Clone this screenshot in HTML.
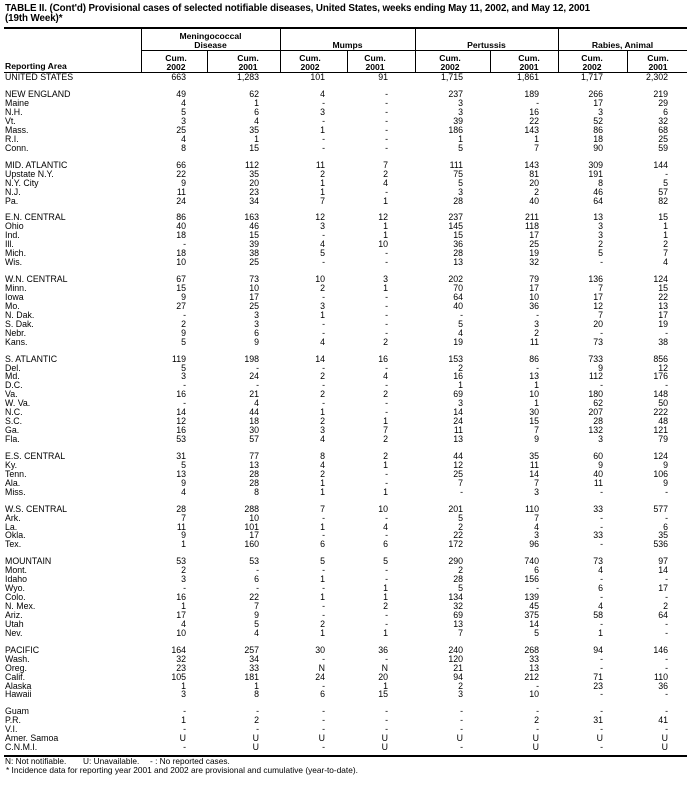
<!DOCTYPE html>
<html><head><meta charset="utf-8">
<style>
*{margin:0;padding:0;box-sizing:border-box}
body{width:687px;height:792px;background:#fff;position:relative;font-family:"Liberation Sans",Arial,sans-serif;color:#000;overflow:hidden}
.a{position:absolute;white-space:nowrap}
.title{left:5px;top:3.5px;font-weight:bold;font-size:9.8px;line-height:10px;letter-spacing:-0.1px}
.hl{position:absolute;background:#000}
.hb{font-weight:bold;font-size:8.6px;line-height:9px;text-align:center;position:absolute}
#data{position:absolute;top:73.3px;left:0;width:687px;font-size:8.8px}
.r{display:flex;height:8.95px;line-height:8.95px}
.r.g{margin-top:8.0px}
.r div{white-space:nowrap;text-align:right}
.r .n{width:141px;padding-left:5px;text-align:left}
.r div:nth-child(2){width:66px;padding-right:21px}
.r div:nth-child(3){width:73px;padding-right:21px}
.r div:nth-child(4){width:67px;padding-right:22px}
.r div:nth-child(5){width:68px;padding-right:27px}
.r div:nth-child(6){width:75px;padding-right:27px}
.r div:nth-child(7){width:68px;padding-right:19px}
.r div:nth-child(8){width:69px;padding-right:24px}
.r div:nth-child(9){width:60px;padding-right:19px}
.foot{font-size:8.3px;line-height:9px}
</style></head><body>
<div class="a title">TABLE II. (Cont'd) Provisional cases of selected notifiable diseases, United States, weeks ending May 11, 2002, and May 12, 2001<br>(19th Week)*</div>
<div class="hl" style="left:4px;top:27px;width:683px;height:1.5px"></div>
<div class="hl" style="left:141px;top:50px;width:546px;height:1px"></div>
<div class="hl" style="left:4px;top:72px;width:683px;height:1px"></div>
<div class="hl" style="left:141px;top:28px;width:1px;height:44px"></div>
<div class="hl" style="left:280px;top:28px;width:1px;height:44px"></div>
<div class="hl" style="left:415px;top:28px;width:1px;height:44px"></div>
<div class="hl" style="left:558px;top:28px;width:1px;height:44px"></div>
<div class="hl" style="left:207px;top:50px;width:1px;height:22px"></div>
<div class="hl" style="left:347px;top:50px;width:1px;height:22px"></div>
<div class="hl" style="left:490px;top:50px;width:1px;height:22px"></div>
<div class="hl" style="left:627px;top:50px;width:1px;height:22px"></div>
<div class="hb" style="left:141px;width:139px;top:31.5px">Meningococcal<br>Disease</div>
<div class="hb" style="left:280px;width:135px;top:40.5px">Mumps</div>
<div class="hb" style="left:415px;width:143px;top:40.5px">Pertussis</div>
<div class="hb" style="left:558px;width:129px;top:40.5px">Rabies, Animal</div>
<div class="hb" style="left:5px;top:61.5px;text-align:left">Reporting Area</div>
<div class="hb" style="left:156px;width:40px;top:53.5px">Cum.<br>2002</div>
<div class="hb" style="left:228px;width:40px;top:53.5px">Cum.<br>2001</div>
<div class="hb" style="left:290px;width:40px;top:53.5px">Cum.<br>2002</div>
<div class="hb" style="left:355px;width:40px;top:53.5px">Cum.<br>2001</div>
<div class="hb" style="left:430px;width:40px;top:53.5px">Cum.<br>2002</div>
<div class="hb" style="left:509px;width:40px;top:53.5px">Cum.<br>2001</div>
<div class="hb" style="left:572px;width:40px;top:53.5px">Cum.<br>2002</div>
<div class="hb" style="left:638px;width:40px;top:53.5px">Cum.<br>2001</div>

<div id="data">
<div class="r"><div class="n">UNITED STATES</div><div>663</div><div>1,283</div><div>101</div><div>91</div><div>1,715</div><div>1,861</div><div>1,717</div><div>2,302</div></div>

<div class="r g"><div class="n">NEW ENGLAND</div><div>49</div><div>62</div><div>4</div><div>-</div><div>237</div><div>189</div><div>266</div><div>219</div></div>
<div class="r"><div class="n">Maine</div><div>4</div><div>1</div><div>-</div><div>-</div><div>3</div><div>-</div><div>17</div><div>29</div></div>
<div class="r"><div class="n">N.H.</div><div>5</div><div>6</div><div>3</div><div>-</div><div>3</div><div>16</div><div>3</div><div>6</div></div>
<div class="r"><div class="n">Vt.</div><div>3</div><div>4</div><div>-</div><div>-</div><div>39</div><div>22</div><div>52</div><div>32</div></div>
<div class="r"><div class="n">Mass.</div><div>25</div><div>35</div><div>1</div><div>-</div><div>186</div><div>143</div><div>86</div><div>68</div></div>
<div class="r"><div class="n">R.I.</div><div>4</div><div>1</div><div>-</div><div>-</div><div>1</div><div>1</div><div>18</div><div>25</div></div>
<div class="r"><div class="n">Conn.</div><div>8</div><div>15</div><div>-</div><div>-</div><div>5</div><div>7</div><div>90</div><div>59</div></div>

<div class="r g"><div class="n">MID. ATLANTIC</div><div>66</div><div>112</div><div>11</div><div>7</div><div>111</div><div>143</div><div>309</div><div>144</div></div>
<div class="r"><div class="n">Upstate N.Y.</div><div>22</div><div>35</div><div>2</div><div>2</div><div>75</div><div>81</div><div>191</div><div>-</div></div>
<div class="r"><div class="n">N.Y. City</div><div>9</div><div>20</div><div>1</div><div>4</div><div>5</div><div>20</div><div>8</div><div>5</div></div>
<div class="r"><div class="n">N.J.</div><div>11</div><div>23</div><div>1</div><div>-</div><div>3</div><div>2</div><div>46</div><div>57</div></div>
<div class="r"><div class="n">Pa.</div><div>24</div><div>34</div><div>7</div><div>1</div><div>28</div><div>40</div><div>64</div><div>82</div></div>

<div class="r g"><div class="n">E.N. CENTRAL</div><div>86</div><div>163</div><div>12</div><div>12</div><div>237</div><div>211</div><div>13</div><div>15</div></div>
<div class="r"><div class="n">Ohio</div><div>40</div><div>46</div><div>3</div><div>1</div><div>145</div><div>118</div><div>3</div><div>1</div></div>
<div class="r"><div class="n">Ind.</div><div>18</div><div>15</div><div>-</div><div>1</div><div>15</div><div>17</div><div>3</div><div>1</div></div>
<div class="r"><div class="n">Ill.</div><div>-</div><div>39</div><div>4</div><div>10</div><div>36</div><div>25</div><div>2</div><div>2</div></div>
<div class="r"><div class="n">Mich.</div><div>18</div><div>38</div><div>5</div><div>-</div><div>28</div><div>19</div><div>5</div><div>7</div></div>
<div class="r"><div class="n">Wis.</div><div>10</div><div>25</div><div>-</div><div>-</div><div>13</div><div>32</div><div>-</div><div>4</div></div>

<div class="r g"><div class="n">W.N. CENTRAL</div><div>67</div><div>73</div><div>10</div><div>3</div><div>202</div><div>79</div><div>136</div><div>124</div></div>
<div class="r"><div class="n">Minn.</div><div>15</div><div>10</div><div>2</div><div>1</div><div>70</div><div>17</div><div>7</div><div>15</div></div>
<div class="r"><div class="n">Iowa</div><div>9</div><div>17</div><div>-</div><div>-</div><div>64</div><div>10</div><div>17</div><div>22</div></div>
<div class="r"><div class="n">Mo.</div><div>27</div><div>25</div><div>3</div><div>-</div><div>40</div><div>36</div><div>12</div><div>13</div></div>
<div class="r"><div class="n">N. Dak.</div><div>-</div><div>3</div><div>1</div><div>-</div><div>-</div><div>-</div><div>7</div><div>17</div></div>
<div class="r"><div class="n">S. Dak.</div><div>2</div><div>3</div><div>-</div><div>-</div><div>5</div><div>3</div><div>20</div><div>19</div></div>
<div class="r"><div class="n">Nebr.</div><div>9</div><div>6</div><div>-</div><div>-</div><div>4</div><div>2</div><div>-</div><div>-</div></div>
<div class="r"><div class="n">Kans.</div><div>5</div><div>9</div><div>4</div><div>2</div><div>19</div><div>11</div><div>73</div><div>38</div></div>

<div class="r g"><div class="n">S. ATLANTIC</div><div>119</div><div>198</div><div>14</div><div>16</div><div>153</div><div>86</div><div>733</div><div>856</div></div>
<div class="r"><div class="n">Del.</div><div>5</div><div>-</div><div>-</div><div>-</div><div>2</div><div>-</div><div>9</div><div>12</div></div>
<div class="r"><div class="n">Md.</div><div>3</div><div>24</div><div>2</div><div>4</div><div>16</div><div>13</div><div>112</div><div>176</div></div>
<div class="r"><div class="n">D.C.</div><div>-</div><div>-</div><div>-</div><div>-</div><div>1</div><div>1</div><div>-</div><div>-</div></div>
<div class="r"><div class="n">Va.</div><div>16</div><div>21</div><div>2</div><div>2</div><div>69</div><div>10</div><div>180</div><div>148</div></div>
<div class="r"><div class="n">W. Va.</div><div>-</div><div>4</div><div>-</div><div>-</div><div>3</div><div>1</div><div>62</div><div>50</div></div>
<div class="r"><div class="n">N.C.</div><div>14</div><div>44</div><div>1</div><div>-</div><div>14</div><div>30</div><div>207</div><div>222</div></div>
<div class="r"><div class="n">S.C.</div><div>12</div><div>18</div><div>2</div><div>1</div><div>24</div><div>15</div><div>28</div><div>48</div></div>
<div class="r"><div class="n">Ga.</div><div>16</div><div>30</div><div>3</div><div>7</div><div>11</div><div>7</div><div>132</div><div>121</div></div>
<div class="r"><div class="n">Fla.</div><div>53</div><div>57</div><div>4</div><div>2</div><div>13</div><div>9</div><div>3</div><div>79</div></div>

<div class="r g"><div class="n">E.S. CENTRAL</div><div>31</div><div>77</div><div>8</div><div>2</div><div>44</div><div>35</div><div>60</div><div>124</div></div>
<div class="r"><div class="n">Ky.</div><div>5</div><div>13</div><div>4</div><div>1</div><div>12</div><div>11</div><div>9</div><div>9</div></div>
<div class="r"><div class="n">Tenn.</div><div>13</div><div>28</div><div>2</div><div>-</div><div>25</div><div>14</div><div>40</div><div>106</div></div>
<div class="r"><div class="n">Ala.</div><div>9</div><div>28</div><div>1</div><div>-</div><div>7</div><div>7</div><div>11</div><div>9</div></div>
<div class="r"><div class="n">Miss.</div><div>4</div><div>8</div><div>1</div><div>1</div><div>-</div><div>3</div><div>-</div><div>-</div></div>

<div class="r g"><div class="n">W.S. CENTRAL</div><div>28</div><div>288</div><div>7</div><div>10</div><div>201</div><div>110</div><div>33</div><div>577</div></div>
<div class="r"><div class="n">Ark.</div><div>7</div><div>10</div><div>-</div><div>-</div><div>5</div><div>7</div><div>-</div><div>-</div></div>
<div class="r"><div class="n">La.</div><div>11</div><div>101</div><div>1</div><div>4</div><div>2</div><div>4</div><div>-</div><div>6</div></div>
<div class="r"><div class="n">Okla.</div><div>9</div><div>17</div><div>-</div><div>-</div><div>22</div><div>3</div><div>33</div><div>35</div></div>
<div class="r"><div class="n">Tex.</div><div>1</div><div>160</div><div>6</div><div>6</div><div>172</div><div>96</div><div>-</div><div>536</div></div>

<div class="r g"><div class="n">MOUNTAIN</div><div>53</div><div>53</div><div>5</div><div>5</div><div>290</div><div>740</div><div>73</div><div>97</div></div>
<div class="r"><div class="n">Mont.</div><div>2</div><div>-</div><div>-</div><div>-</div><div>2</div><div>6</div><div>4</div><div>14</div></div>
<div class="r"><div class="n">Idaho</div><div>3</div><div>6</div><div>1</div><div>-</div><div>28</div><div>156</div><div>-</div><div>-</div></div>
<div class="r"><div class="n">Wyo.</div><div>-</div><div>-</div><div>-</div><div>1</div><div>5</div><div>-</div><div>6</div><div>17</div></div>
<div class="r"><div class="n">Colo.</div><div>16</div><div>22</div><div>1</div><div>1</div><div>134</div><div>139</div><div>-</div><div>-</div></div>
<div class="r"><div class="n">N. Mex.</div><div>1</div><div>7</div><div>-</div><div>2</div><div>32</div><div>45</div><div>4</div><div>2</div></div>
<div class="r"><div class="n">Ariz.</div><div>17</div><div>9</div><div>-</div><div>-</div><div>69</div><div>375</div><div>58</div><div>64</div></div>
<div class="r"><div class="n">Utah</div><div>4</div><div>5</div><div>2</div><div>-</div><div>13</div><div>14</div><div>-</div><div>-</div></div>
<div class="r"><div class="n">Nev.</div><div>10</div><div>4</div><div>1</div><div>1</div><div>7</div><div>5</div><div>1</div><div>-</div></div>

<div class="r g"><div class="n">PACIFIC</div><div>164</div><div>257</div><div>30</div><div>36</div><div>240</div><div>268</div><div>94</div><div>146</div></div>
<div class="r"><div class="n">Wash.</div><div>32</div><div>34</div><div>-</div><div>-</div><div>120</div><div>33</div><div>-</div><div>-</div></div>
<div class="r"><div class="n">Oreg.</div><div>23</div><div>33</div><div>N</div><div>N</div><div>21</div><div>13</div><div>-</div><div>-</div></div>
<div class="r"><div class="n">Calif.</div><div>105</div><div>181</div><div>24</div><div>20</div><div>94</div><div>212</div><div>71</div><div>110</div></div>
<div class="r"><div class="n">Alaska</div><div>1</div><div>1</div><div>-</div><div>1</div><div>2</div><div>-</div><div>23</div><div>36</div></div>
<div class="r"><div class="n">Hawaii</div><div>3</div><div>8</div><div>6</div><div>15</div><div>3</div><div>10</div><div>-</div><div>-</div></div>

<div class="r g"><div class="n">Guam</div><div>-</div><div>-</div><div>-</div><div>-</div><div>-</div><div>-</div><div>-</div><div>-</div></div>
<div class="r"><div class="n">P.R.</div><div>1</div><div>2</div><div>-</div><div>-</div><div>-</div><div>2</div><div>31</div><div>41</div></div>
<div class="r"><div class="n">V.I.</div><div>-</div><div>-</div><div>-</div><div>-</div><div>-</div><div>-</div><div>-</div><div>-</div></div>
<div class="r"><div class="n">Amer. Samoa</div><div>U</div><div>U</div><div>U</div><div>U</div><div>U</div><div>U</div><div>U</div><div>U</div></div>
<div class="r"><div class="n">C.N.M.I.</div><div>-</div><div>U</div><div>-</div><div>U</div><div>-</div><div>U</div><div>-</div><div>U</div></div>
</div>

<div class="hl" style="left:4px;top:755px;width:683px;height:1.5px"></div>
<div class="a foot" style="left:5px;top:756.5px">N: Not notifiable.</div>
<div class="a foot" style="left:83px;top:756.5px">U: Unavailable.</div>
<div class="a foot" style="left:150px;top:756.5px">- : No reported cases.</div>
<div class="a foot" style="left:6px;top:765.5px">* Incidence data for reporting year 2001 and 2002 are provisional and cumulative (year-to-date).</div>
</body></html>
